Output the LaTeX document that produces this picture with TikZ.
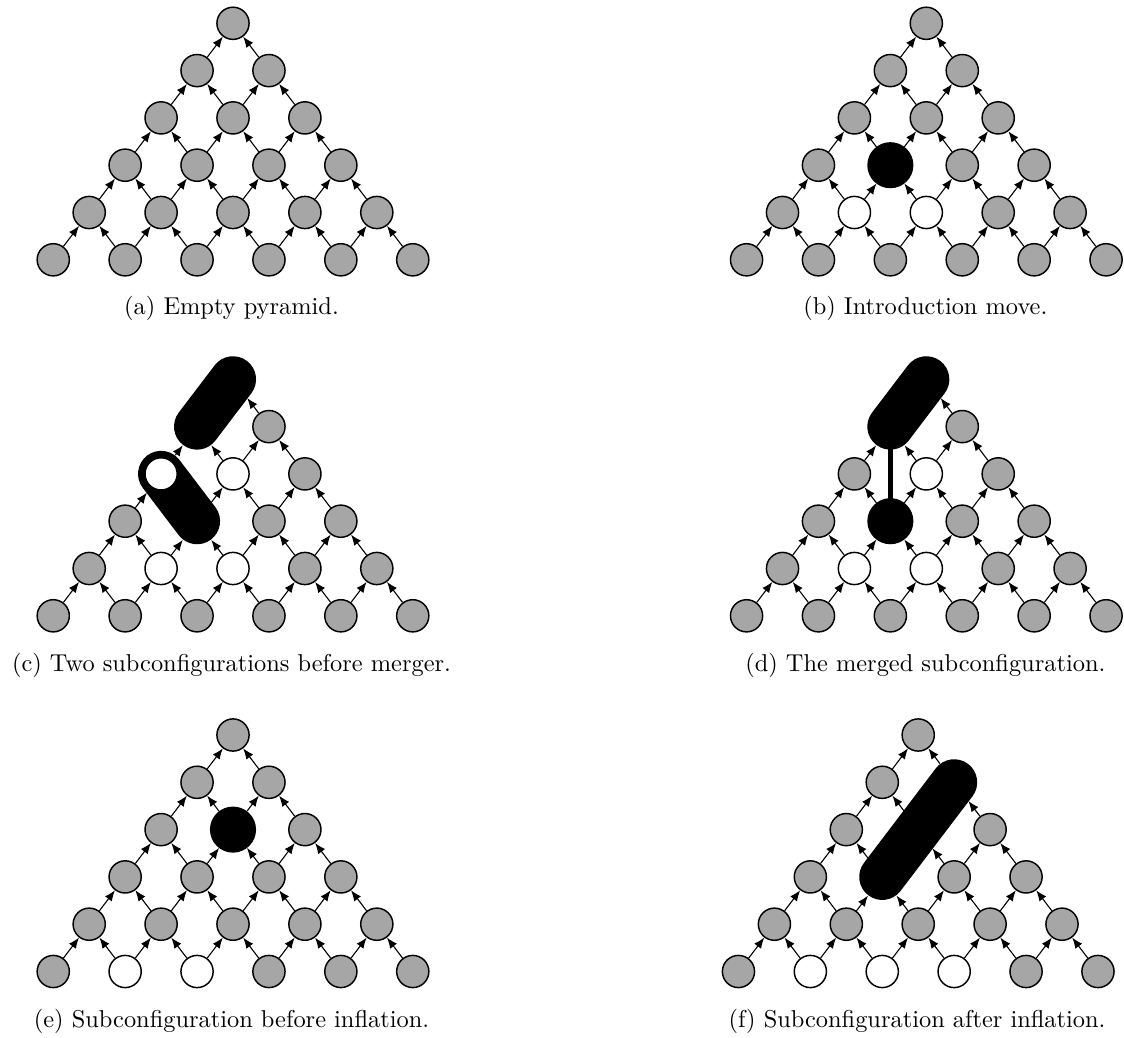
\documentclass[tikz,border=0pt]{standalone}
\usetikzlibrary{arrows.meta}
\newcommand\settyp[2]{\expandafter\def\csname ty-#1\endcsname{#2}}
% panel (b)
\settyp{b-3-1}{bnode}\settyp{b-4-1}{wnode}\settyp{b-4-2}{wnode}
% panel (c)
\settyp{c-0-0}{hnode}\settyp{c-1-0}{hnode}\settyp{c-2-0}{hnode}\settyp{c-3-1}{hnode}
\settyp{c-2-1}{wnode}\settyp{c-4-1}{wnode}\settyp{c-4-2}{wnode}
% panel (d)
\settyp{d-0-0}{hnode}\settyp{d-1-0}{hnode}\settyp{d-2-1}{wnode}\settyp{d-3-1}{bnode}
\settyp{d-4-1}{wnode}\settyp{d-4-2}{wnode}
% panel (e)
\settyp{e-2-1}{bnode}\settyp{e-5-1}{wnode}\settyp{e-5-2}{wnode}
% panel (f)
\settyp{f-1-1}{hnode}\settyp{f-2-1}{hnode}\settyp{f-3-1}{hnode}
\settyp{f-5-1}{wnode}\settyp{f-5-2}{wnode}\settyp{f-5-3}{wnode}
\newcommand\drawpyr[3]{%
  \foreach \r in {0,...,5}{%
    \foreach \i in {0,...,\r}{%
      \ifcsname ty-#1-\r-\i\endcsname
        \edef\tyname{\csname ty-#1-\r-\i\endcsname}%
      \else
        \def\tyname{gnode}%
      \fi
      \edef\tmp{\noexpand\node[\tyname] (#1-\r-\i) at ({#2+(\i-\r/2)*71.9},{#3+\r*47.3}) {};}%
      \tmp
    }%
  }%
  \foreach \r in {1,...,5}{%
    \foreach \i in {0,...,\r}{%
      \pgfmathtruncatemacro\rm{\r-1}%
      \pgfmathtruncatemacro\im{\i-1}%
      \ifnum\i>0 \draw[arr] (#1-\r-\i) -- (#1-\rm-\im);\fi
      \ifnum\i<\r \draw[arr] (#1-\r-\i) -- (#1-\rm-\i);\fi
    }%
  }%
}
\begin{document}
\begin{tikzpicture}[x=0.41pt,y=-0.41pt,
  gnode/.style={circle,draw,line width=0.6pt,fill=black!35,minimum size=13.2pt,inner sep=0pt},
  wnode/.style={gnode,fill=white},
  bnode/.style={circle,draw,line width=0.6pt,fill=black,minimum size=18.3pt,inner sep=0pt},
  hnode/.style={circle,minimum size=18.9pt,inner sep=0pt},
  arr/.style={line width=0.45pt,-{Latex[length=4.4pt,width=3.5pt]}},
  capsule/.style={line width=18.9pt,line cap=round,black},
  bar/.style={line width=2.1pt,black},
  captext/.style={anchor=base,inner sep=0pt,font=\normalsize}]
\useasboundingbox (0,0) rectangle (1124,1038);
\drawpyr{a}{233}{23.3}
\drawpyr{b}{926.3}{23.3}
\drawpyr{c}{233}{379.3}
\drawpyr{d}{926.3}{379.3}
\drawpyr{e}{233}{735}
\drawpyr{f}{918.2}{735}
% subconfigurations
\draw[capsule] (c-0-0.center) -- (c-1-0.center);
\draw[capsule] (c-2-0.center) -- (c-3-1.center);
\node[wnode] (c-ring) at (c-2-0) {};
\draw[capsule] (d-0-0.center) -- (d-1-0.center);
\draw[bar] (d-1-0.center) -- (d-3-1.center);
\draw[capsule] (f-1-1.center) -- (f-3-1.center);
% captions
\node[captext] (capa) at (231.5,315) {(a) Empty pyramid.};
\node[captext] (capb) at (925.3,315) {(b) Introduction move.};
\node[captext] (capc) at (231.5,671) {(c) Two subconfigurations before merger.};
\node[captext] (capd) at (925.3,671) {(d) The merged subconfiguration.};
\node[captext] (cape) at (231.5,1027) {(e) Subconfiguration before inflation.};
\node[captext] (capf) at (917,1027) {(f) Subconfiguration after inflation.};
\end{tikzpicture}
\end{document}
